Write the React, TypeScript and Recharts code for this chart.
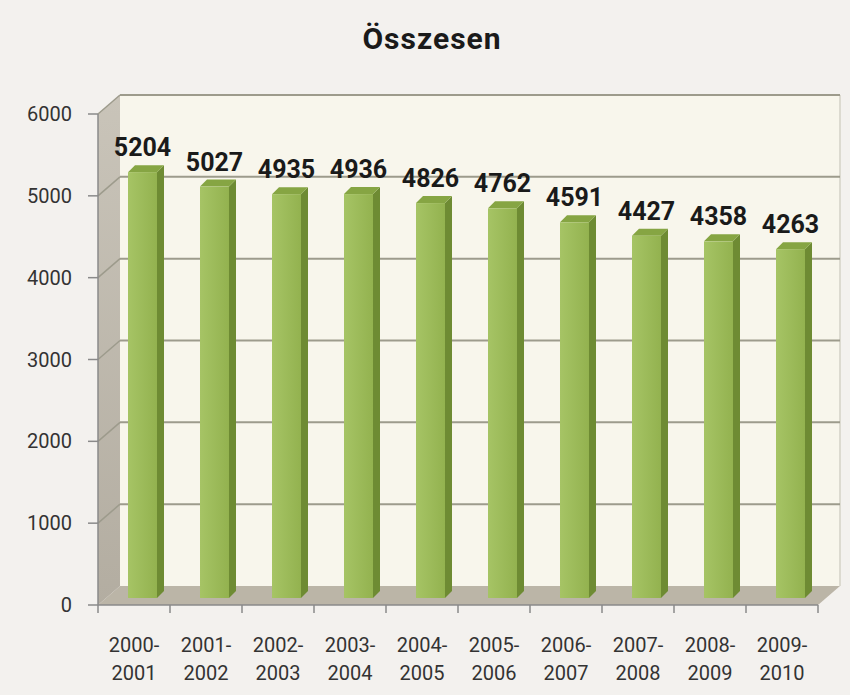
import React from 'react';
import {
    BarChart,
    Bar,
    XAxis,
    YAxis,
    ReferenceArea,
    LabelList,
} from 'recharts';

const years = [
    '2000-2001', '2001-2002', '2002-2003', '2003-2004', '2004-2005',
    '2005-2006', '2006-2007', '2007-2008', '2008-2009', '2009-2010',
];
const totals = [5204, 5027, 4935, 4936, 4826, 4762, 4591, 4427, 4358, 4263];
const yTicks = [0, 1000, 2000, 3000, 4000, 5000, 6000];

const data = years.map((name, i) => ({ name, value: totals[i] }));

// depth of the 3d walls and of the bars
const WALL_DX = 22;
const WALL_DY = 19;
const BAR_DX = 7;
const BAR_DY = 7;
const BAR_SHIFT_X = 8;
const BAR_SHIFT_Y = -7;

const FONT = 'Roboto, "Open Sans", sans-serif';

function Walls(props: any) {
    const { x, y, width, height } = props;
    const x1 = x + width;
    const y1 = y + height;
    return (
        <g>
            <defs>
                <linearGradient id="leftWall" x1="0" y1="0" x2="0" y2="1">
                    <stop offset="0%" stopColor="#c9c4b9" />
                    <stop offset="100%" stopColor="#b3ada1" />
                </linearGradient>
            </defs>
            <rect x={x + WALL_DX} y={y - WALL_DY} width={width} height={height} fill="#f8f6ec" />
            <line x1={x1 + WALL_DX} y1={y - WALL_DY} x2={x1 + WALL_DX} y2={y1 - WALL_DY} stroke="#dcdad0" strokeWidth={2} />
            <polygon
                points={`${x},${y} ${x + WALL_DX},${y - WALL_DY} ${x + WALL_DX},${y1 - WALL_DY} ${x},${y1}`}
                fill="url(#leftWall)"
            />
            <polygon
                points={`${x},${y1} ${x + WALL_DX},${y1 - WALL_DY} ${x1 + WALL_DX},${y1 - WALL_DY} ${x1},${y1}`}
                fill="#bbb5a7"
            />
        </g>
    );
}

// gridline drawn at the top edge of an area that goes from 0 to the tick value
function GridLine(props: any) {
    const { x, y, width } = props;
    if (x == null || y == null) return null;
    return (
        <g>
            <line x1={x} y1={y} x2={x + WALL_DX} y2={y - WALL_DY} stroke="#9d9b8c" strokeWidth={1.5} />
            <line x1={x + WALL_DX} y1={y - WALL_DY} x2={x + width + WALL_DX} y2={y - WALL_DY} stroke="#9d9b8c" strokeWidth={2} />
        </g>
    );
}

function Bar3D(props: any) {
    const { x, y, width, height } = props;
    if (height == null || width == null) return null;
    const fx = x + BAR_SHIFT_X;
    const fy = y + BAR_SHIFT_Y;
    const fb = y + height + BAR_SHIFT_Y;
    const r = fx + width;
    return (
        <g>
            <polygon
                points={`${r},${fy} ${r + BAR_DX},${fy - BAR_DY} ${r + BAR_DX},${fb - BAR_DY} ${r},${fb}`}
                fill="#6e8b33"
            />
            <polygon
                points={`${fx},${fy} ${fx + BAR_DX},${fy - BAR_DY} ${r + BAR_DX},${fy - BAR_DY} ${r},${fy}`}
                fill="#86a543"
            />
            <rect x={fx} y={fy} width={width} height={fb - fy} fill="url(#barFront)" />
        </g>
    );
}

function ValueLabel(props: any) {
    const { x, y, width, value } = props;
    return (
        <text
            x={x + BAR_SHIFT_X + width / 2}
            y={y + BAR_SHIFT_Y - 16}
            textAnchor="middle"
            fontFamily={FONT}
            fontWeight="bold"
            fontSize={25}
            fill="#1a1a1a"
        >
            {value}
        </text>
    );
}

function YearTick(props: any) {
    const { x, y, payload, index } = props;
    const [a, b] = String(payload.value).split('-');
    const half = payload.offset != null && payload.offset > 0 ? payload.offset : 36;
    return (
        <g>
            <line x1={x - half} y1={y} x2={x - half} y2={y + 8} stroke="#8a8a8a" strokeWidth={1.5} />
            {index === years.length - 1 && (
                <line x1={x + half} y1={y} x2={x + half} y2={y + 8} stroke="#8a8a8a" strokeWidth={1.5} />
            )}
            <text x={x} y={y + 47} textAnchor="middle" fontFamily={FONT} fontSize={20} fill="#333">
                {a}-
            </text>
            <text x={x} y={y + 75} textAnchor="middle" fontFamily={FONT} fontSize={20} fill="#333">
                {b}
            </text>
        </g>
    );
}

export default function App() {
    return (
        <div style={{ position: 'absolute', left: 0, top: 0, width: 850, height: 695, background: '#f3f1ee' }}>
            <div
                style={{
                    position: 'absolute',
                    left: 0,
                    top: 24,
                    width: 864,
                    textAlign: 'center',
                    fontFamily: FONT,
                    fontWeight: 'bold',
                    fontSize: 30,
                    lineHeight: '30px',
                    letterSpacing: 1,
                    color: '#1a1a1a',
                }}
            >
                Összesen
            </div>
            <svg width={0} height={0} style={{ position: 'absolute' }}>
                <defs>
                    <linearGradient id="barFront" x1="0" y1="0" x2="1" y2="0">
                        <stop offset="0%" stopColor="#a6c465" />
                        <stop offset="100%" stopColor="#93b24f" />
                    </linearGradient>
                </defs>
            </svg>
            <BarChart
                width={850}
                height={695}
                data={data}
                margin={{ top: 114, right: 32, left: 0, bottom: 0 }}
                style={{ position: 'absolute', left: 0, top: 0 }}
            >
                <ReferenceArea y1={0} y2={6000} shape={<Walls />} ifOverflow="visible" />
                {yTicks.filter((t) => t > 0).map((t) => (
                    <ReferenceArea key={t} y1={0} y2={t} ifOverflow="visible" shape={<GridLine />} />
                ))}
                <XAxis
                    dataKey="name"
                    height={90}
                    tickLine={false}
                    tickSize={0}
                    tickMargin={0}
                    interval={0}
                    stroke="#8a8a8a"
                    strokeWidth={1.5}
                    tick={<YearTick />}
                />
                <YAxis
                    width={98}
                    domain={[0, 6000]}
                    ticks={yTicks}
                    tickSize={10}
                    tickMargin={16}
                    stroke="#8a8a8a"
                    strokeWidth={1.5}
                    tick={{ fill: '#333', fontSize: 20, fontFamily: FONT }}
                />
                <Bar dataKey="value" barSize={29} shape={<Bar3D />} isAnimationActive={false}>
                    <LabelList dataKey="value" content={<ValueLabel />} />
                </Bar>
            </BarChart>
        </div>
    );
}
